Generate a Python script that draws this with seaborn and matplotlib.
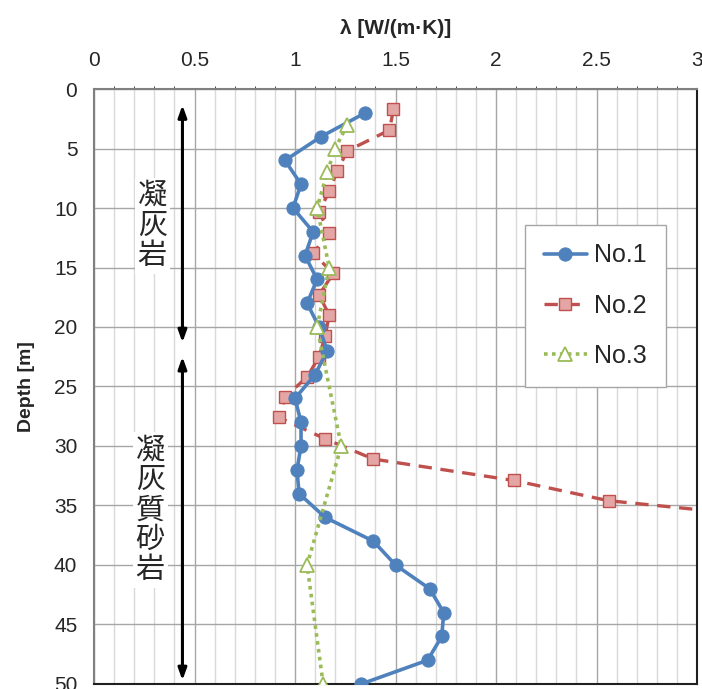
import numpy as np
import pandas as pd
import matplotlib
matplotlib.use("Agg")
import matplotlib.pyplot as plt
import seaborn as sns
from matplotlib.ticker import MultipleLocator

# ── data ────────────────────────────────────────
no1_depth = [2, 4, 6, 8, 10, 12, 14, 16, 18, 20, 22, 24, 26, 28, 30, 32, 34,
             36, 38, 40, 42, 44, 46, 48, 50]
no1_lam = [1.35, 1.13, 0.95, 1.03, 0.99, 1.09, 1.05, 1.11, 1.06, 1.12, 1.16,
           1.10, 1.00, 1.03, 1.03, 1.01, 1.02, 1.15, 1.39, 1.50, 1.67, 1.74,
           1.73, 1.66, 1.33]

no2_depth = [1.7, 3.45, 5.2, 6.9, 8.6, 10.3, 12.1, 13.8, 15.5, 17.3, 19.0,
             20.75, 22.5, 24.2, 25.9, 27.6, 29.4, 31.1, 32.9, 34.6, 36.3]
no2_lam = [1.49, 1.47, 1.26, 1.21, 1.17, 1.12, 1.17, 1.09, 1.19, 1.12, 1.17,
           1.15, 1.12, 1.06, 0.95, 0.92, 1.15, 1.39, 2.09, 2.56, 3.57]

no3_depth = [3, 5, 7, 10, 15, 20, 30, 40, 50]
no3_lam = [1.26, 1.20, 1.16, 1.11, 1.17, 1.11, 1.23, 1.06, 1.14]

x_ticks = [0, 0.5, 1, 1.5, 2, 2.5, 3]
y_ticks = list(range(0, 51, 5))

blue = "#4f81bd"
red = "#c0504d"
green = "#9bbb59"

sns.set_style("white")
plt.rcParams["font.family"] = ["Liberation Sans", "DejaVu Sans"]

fig = plt.figure(figsize=(7.02, 6.89), dpi=100)
ax = fig.add_axes([0.1339, 0.0073, 0.8590, 0.8635])

# grid
ax.set_xlim(0, 3)
ax.set_ylim(50, 0)
ax.set_xticks(x_ticks)
ax.set_yticks(y_ticks)
ax.xaxis.set_minor_locator(MultipleLocator(0.1))
ax.grid(which="minor", axis="x", color="#d9d9d9", lw=1.0, zorder=0)
ax.grid(which="major", axis="both", color="#a6a6a6", lw=1.0, zorder=0)
ax.set_axisbelow(True)

df1 = pd.DataFrame({"lam": no1_lam, "depth": no1_depth})
df2 = pd.DataFrame({"lam": no2_lam, "depth": no2_depth})
df3 = pd.DataFrame({"lam": no3_lam, "depth": no3_depth})

common = dict(x="lam", y="depth", sort=False, estimator=None, ax=ax)
sns.lineplot(data=df1, color=blue, lw=2.6, marker="o", ms=9.5, mfc=blue, mec=blue,
             label="No.1", zorder=5, **common)
sns.lineplot(data=df2, color=red, lw=2.4, linestyle=(0, (4, 2.6)), marker="s", ms=8,
             mfc="#e3a6a5", mec=red, mew=1.0, label="No.2", zorder=4, **common)
sns.lineplot(data=df3, color=green, lw=2.6, linestyle=(0, (1, 1.2)), marker="^", ms=10,
             mfc="white", mec=green, mew=1.3, label="No.3", zorder=6, **common)

# x axis on top
ax.xaxis.set_ticks_position("top")
ax.xaxis.set_label_position("top")
ax.tick_params(axis="x", length=0, labelsize=15, pad=14)
ax.tick_params(axis="y", length=0, labelsize=15, pad=12)
ax.set_xticklabels([f"{t:g}" for t in x_ticks])
ax.set_xlabel("λ [W/(m·K)]", fontsize=15, fontweight="bold", labelpad=12)
ax.set_ylabel("Depth [m]", fontsize=14, fontweight="bold", labelpad=14)

for side in ["left", "top"]:
    ax.spines[side].set_color("#808080")
    ax.spines[side].set_linewidth(1.5)
for side in ["right", "bottom"]:
    ax.spines[side].set_color("#202020")
    ax.spines[side].set_linewidth(1.5)

# stratum arrows and labels
arrow = dict(arrowstyle="<|-|>,head_width=0.25,head_length=0.7", color="black", lw=2.2,
             shrinkA=0, shrinkB=0)
ax.annotate("", xy=(0.44, 1.35), xytext=(0.44, 21.3), arrowprops=arrow, zorder=7)
ax.annotate("", xy=(0.44, 22.5), xytext=(0.44, 49.7), arrowprops=arrow, zorder=7)

cjk = ["Noto Sans CJK JP", "DejaVu Sans"]
box = dict(facecolor="white", edgecolor="none", pad=2)
ax.text(0.29, 11.5, "凝\n灰\n岩", family=cjk, fontsize=21, linespacing=1.0,
        ha="center", va="center", bbox=box, zorder=8)
ax.text(0.28, 35.4, "凝\n灰\n質\n砂\n岩", family=cjk, fontsize=21, linespacing=1.0,
        ha="center", va="center", bbox=box, zorder=8)

leg = ax.legend(loc="upper left", bbox_to_anchor=(0.7155, 0.772), borderaxespad=0,
                frameon=True, fancybox=False, edgecolor="#a6a6a6", framealpha=1,
                handlelength=1.7, labelspacing=1.05, borderpad=0.75, handletextpad=0.3,
                prop={"size": 18})
leg.get_frame().set_linewidth(1.0)
leg.set_zorder(10)

fig.savefig("out.png", dpi=100)
